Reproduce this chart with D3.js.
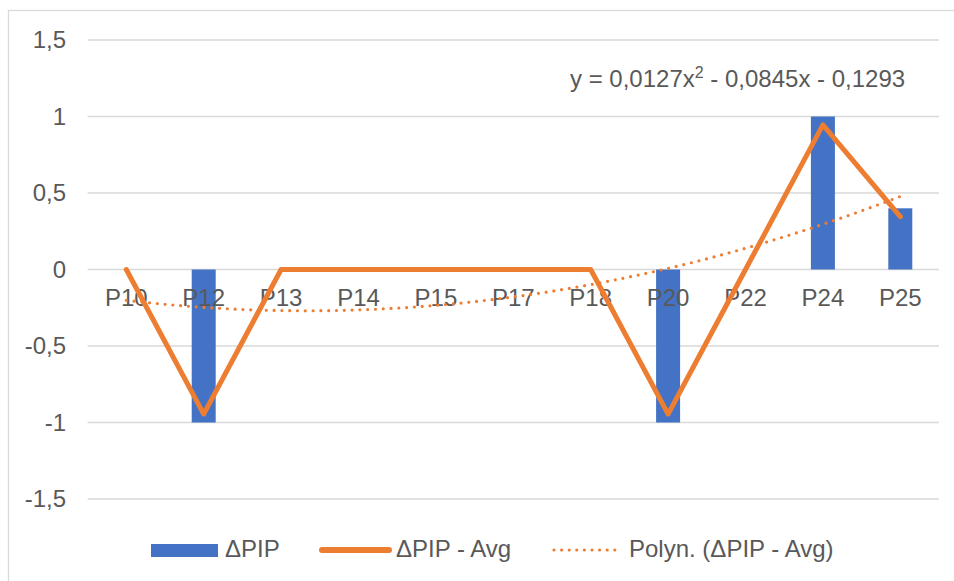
<!DOCTYPE html>
<html>
<head>
<meta charset="utf-8">
<script src="https://cdn.jsdelivr.net/npm/d3@7"></script>
<style>
  html, body { margin: 0; padding: 0; background: #fff; }
  svg { display: block; font-family: "Liberation Sans", Arial, sans-serif; }
</style>
</head>
<body>
<svg id="chart" width="954" height="581"></svg>
<script>
// Categories and series
const categories = ["P10", "P12", "P13", "P14", "P15", "P17", "P18", "P20", "P22", "P24", "P25"];
const deltaPIP = [0, -1, 0, 0, 0, 0, 0, -1, 0, 1, 0.4];
const deltaPIPAvg = [0, -0.945, 0, 0, 0, 0, 0, -0.945, 0, 0.945, 0.345];
// Polynomial trend coefficients: y = a x^2 + b x + c, with x = 1..n
const trendCoef = [0.0127, -0.0845, -0.1293];
const yTicks = [-1.5, -1, -0.5, 0, 0.5, 1, 1.5];
const legendLabels = ["ΔPIP", "ΔPIP - Avg", "Polyn. (ΔPIP - Avg)"];

const blue = "#4472C4", orange = "#ED7D31", textCol = "#595959", gridCol = "#d9d9d9";
const fs = 24;
const svg = d3.select("#chart");

// Chart frame (only the left and top edges fall inside the view)
svg.append("rect").attr("x", 8.5).attr("y", 10.5).attr("width", 960).attr("height", 600)
  .attr("fill", "#fff").attr("stroke", "#d9d9d9").attr("stroke-width", 1.3);

const plotL = 87.6, plotR = 939, plotT = 40, plotB = 499;
const x = d3.scaleBand().domain(categories).range([plotL, plotR]).paddingInner(0.69).paddingOuter(0.345);
const y = d3.scaleLinear().domain([-1.5, 1.5]).range([plotB, plotT]);
const cx = d => x(d) + x.bandwidth() / 2;

// Gridlines and value axis labels
const fmt = v => String(v).replace(".", ",");
svg.append("g").selectAll("line").data(yTicks).join("line")
  .attr("x1", plotL).attr("x2", plotR)
  .attr("y1", d => y(d)).attr("y2", d => y(d))
  .attr("stroke", gridCol).attr("stroke-width", 1.3);
svg.append("g").selectAll("text").data(yTicks).join("text")
  .attr("x", 66).attr("y", d => y(d)).attr("dy", "0.35em")
  .attr("text-anchor", "end").attr("fill", textCol).attr("font-size", fs)
  .text(fmt);

// Bars
svg.append("g").selectAll("rect").data(categories.map((c, i) => ({ c, v: deltaPIP[i] })).filter(d => d.v !== 0))
  .join("rect")
  .attr("x", d => x(d.c)).attr("width", x.bandwidth())
  .attr("y", d => y(Math.max(0, d.v)))
  .attr("height", d => Math.abs(y(d.v) - y(0)))
  .attr("fill", blue);

// Category labels
svg.append("g").selectAll("text").data(categories).join("text")
  .attr("x", d => cx(d)).attr("y", 306)
  .attr("text-anchor", "middle").attr("fill", textCol).attr("font-size", fs)
  .text(d => d);

// ΔPIP - Avg line
const line = d3.line().x((d, i) => cx(categories[i])).y(d => y(d));
svg.append("path").datum(deltaPIPAvg).attr("d", line)
  .attr("fill", "none").attr("stroke", orange).attr("stroke-width", 5)
  .attr("stroke-linejoin", "round").attr("stroke-linecap", "round");

// Polynomial trendline
const n = categories.length;
const xt = d3.scaleLinear().domain([1, n]).range([cx(categories[0]), cx(categories[n - 1])]);
const trendPts = d3.range(1, n + 0.0001, 0.05).map(t => [t, trendCoef[0] * t * t + trendCoef[1] * t + trendCoef[2]]);
svg.append("path").datum(trendPts)
  .attr("d", d3.line().x(d => xt(d[0])).y(d => y(d[1])))
  .attr("fill", "none").attr("stroke", orange).attr("stroke-width", 3.2)
  .attr("stroke-linecap", "round").attr("stroke-dasharray", "0 7.8");

// Trend equation
const eq = svg.append("text").attr("x", 570).attr("y", 87).attr("fill", textCol).attr("font-size", fs);
eq.append("tspan").text("y = 0,0127x");
eq.append("tspan").attr("dy", -9).attr("font-size", 16).text("2");
eq.append("tspan").attr("dy", 9).text(" - 0,0845x - 0,1293");

// Legend
const lg = svg.append("g");
lg.append("rect").attr("x", 151).attr("y", 544).attr("width", 67).attr("height", 13).attr("fill", blue);
lg.append("text").attr("x", 225).attr("y", 557).attr("fill", textCol).attr("font-size", fs).text(legendLabels[0]);
lg.append("line").attr("x1", 322).attr("x2", 389).attr("y1", 550).attr("y2", 550)
  .attr("stroke", orange).attr("stroke-width", 6).attr("stroke-linecap", "round");
lg.append("text").attr("x", 396).attr("y", 557).attr("fill", textCol).attr("font-size", fs).text(legendLabels[1]);
lg.append("line").attr("x1", 554).attr("x2", 622).attr("y1", 550).attr("y2", 550)
  .attr("stroke", orange).attr("stroke-width", 3.2).attr("stroke-linecap", "round").attr("stroke-dasharray", "0 7.6");
lg.append("text").attr("x", 629).attr("y", 557).attr("fill", textCol).attr("font-size", fs).text(legendLabels[2]);
</script>
</body>
</html>
